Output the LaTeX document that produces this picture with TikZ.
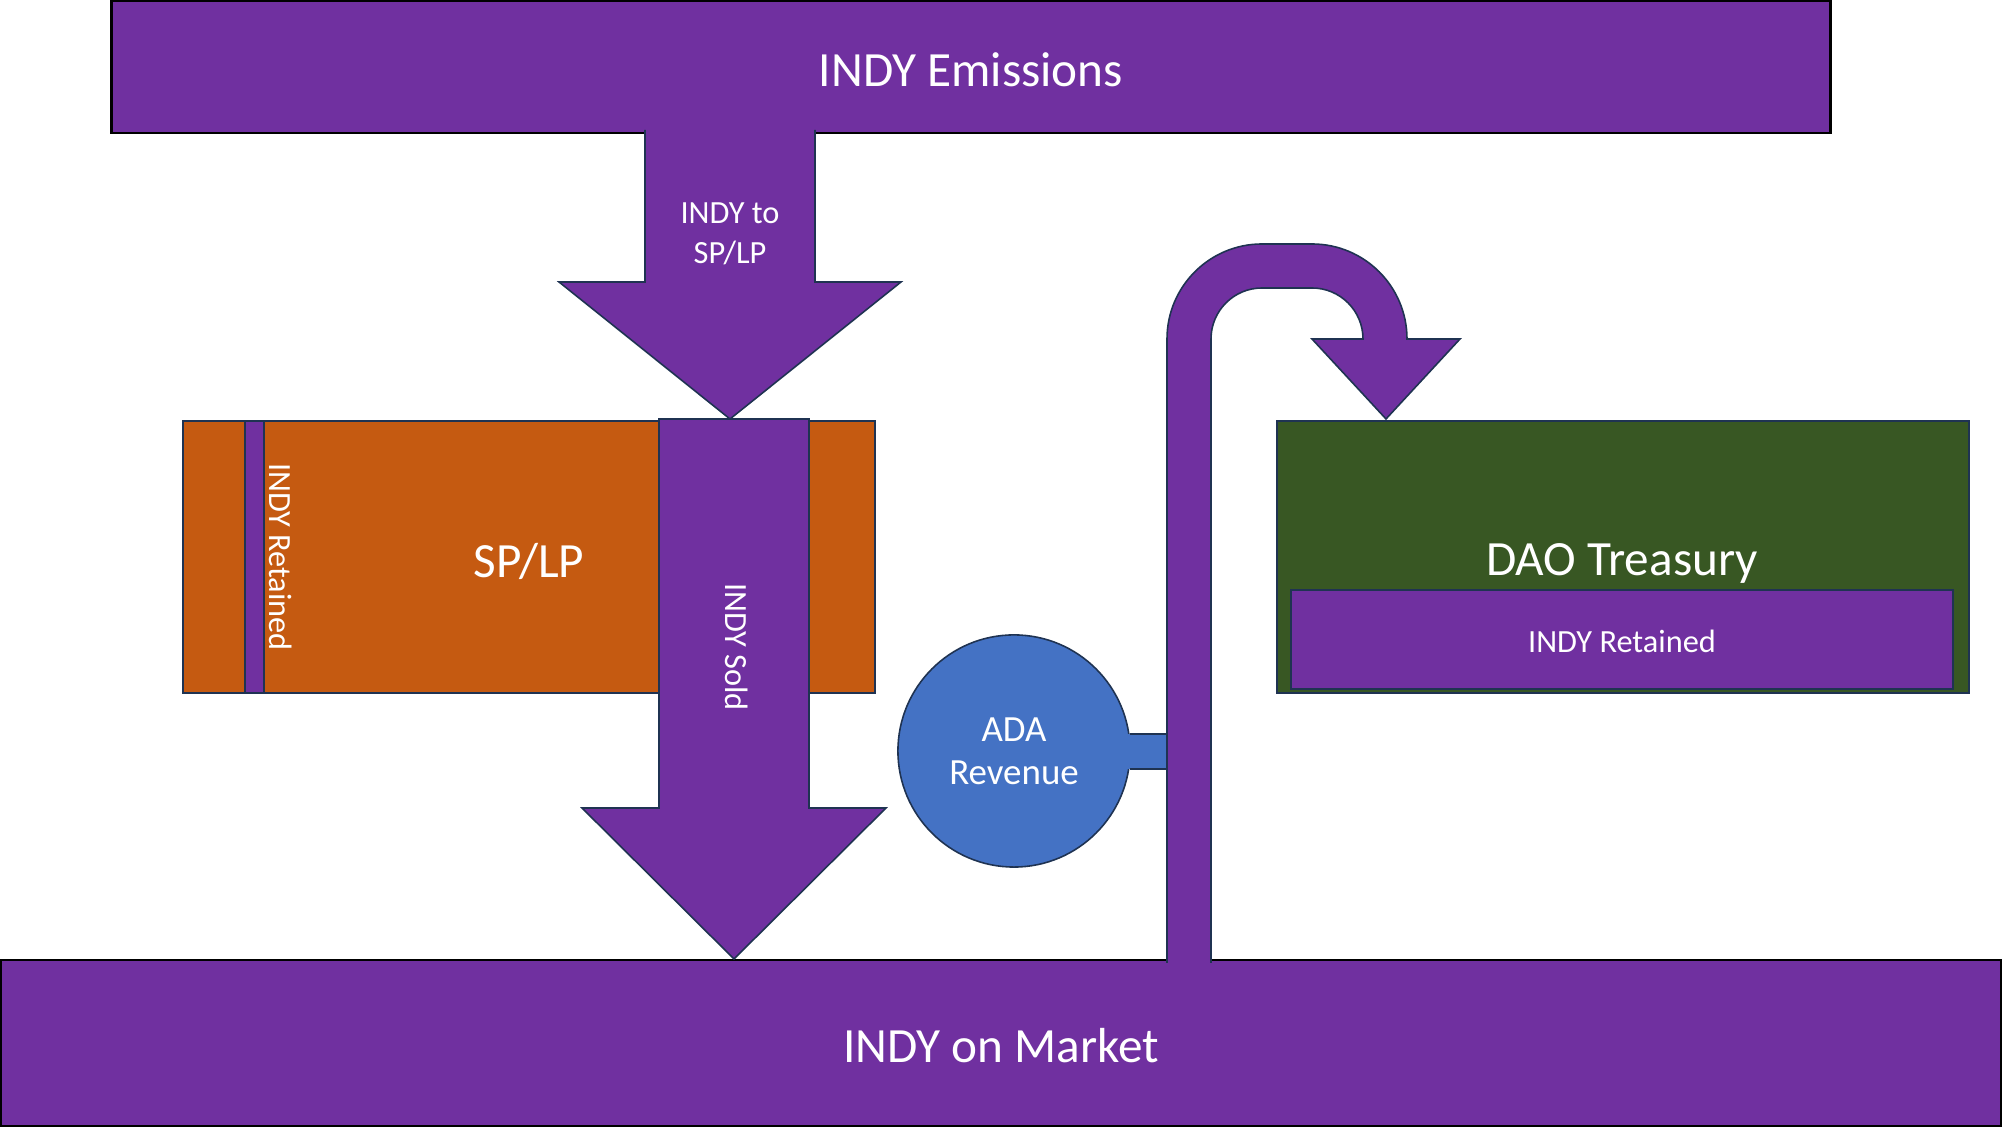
\documentclass[tikz,border=0pt]{standalone}
\usepackage{fontspec}
\setmainfont{Carlito}
\definecolor{indypurple}{HTML}{7030A0}
\definecolor{sporange}{HTML}{C55A11}
\definecolor{daogreen}{HTML}{385723}
\definecolor{adablue}{HTML}{4472C4}
\definecolor{navyline}{HTML}{1F3352}
\begin{document}
\begin{tikzpicture}[x=0.01cm, y=0.01cm,
    edge/.style={draw=navyline, line width=0.45pt},
    bar/.style={draw=black, line width=0.7pt, fill=indypurple, text=white,
      font=\fontsize{14}{17}\selectfont},
    box/.style={edge, text=white, font=\fontsize{14}{17}\selectfont},
    smalltext/.style={text=white, font=\fontsize{9.2}{11.3}\selectfont, align=center},
  ]
  \useasboundingbox (0,0) rectangle (2002,1128);

  % Top and bottom bars
  \node[bar, minimum width=17.18cm, minimum height=1.32cm] (emissions) at (971,1061) {};
  \node[text=white, font=\fontsize{14}{17}\selectfont] (emissionslabel) at (971,1058) {INDY Emissions};
  \node[bar, minimum width=20cm, minimum height=1.66cm] (market) at (1001,85) {};
  \node[text=white, font=\fontsize{14}{17}\selectfont] (marketlabel) at (1001,82) {INDY on Market};

  % SP/LP box with retained strip
  \node[box, fill=sporange, minimum width=6.92cm, minimum height=2.72cm] (splp) at (529,571) {};
  \node[text=white, font=\fontsize{14}{17}\selectfont] (splplabel) at (529,567) {SP/LP};
  \draw[edge, fill=indypurple] (245,435) rectangle (264,707);
  \node[smalltext, rotate=-90] (spretained) at (281,571) {INDY Retained};

  % INDY Sold arrow
  \draw[edge, fill=indypurple] (659,709) -- (659,320) -- (582,320) -- (734,169)
    -- (886,320) -- (809,320) -- (809,709) -- cycle;
  \node[smalltext, rotate=-90] (sold) at (737,481) {INDY Sold};

  % INDY to SP/LP arrow
  \draw[edge, fill=indypurple] (645,998) -- (645,846) -- (559,846) -- (730,709)
    -- (901,846) -- (815,846) -- (815,998);
  \node[smalltext] (tosplp) at (730,894) {INDY to\\SP/LP};

  % ADA revenue
  \node[circle, edge, fill=adablue, minimum size=2.32cm, text=white, align=center,
    font=\fontsize{10.5}{12.3}\selectfont] (ada) at (1014,377) {ADA\\Revenue};
  \coordinate (tabtop) at (1168,394);
  \coordinate (tabbottom) at (1168,359);
  \fill[adablue] (1100,359) rectangle (1168,394);
  \draw[edge] (tabtop -| ada.8.7) -- (tabtop);
  \draw[edge] (tabbottom -| ada.-8.7) -- (tabbottom);

  % U-turn arrow to treasury
  \draw[edge, fill=indypurple] (1211,165) -- (1211,789) arc[start angle=180, end angle=90, radius=51]
    -- (1312,840) arc[start angle=90, end angle=0, radius=51]
    -- (1312,789) -- (1386,709) -- (1460,789) -- (1407,789)
    arc[start angle=0, end angle=90, radius=95] -- (1262,884)
    arc[start angle=90, end angle=180, radius=95] -- (1167,165);

  % DAO treasury
  \node[box, fill=daogreen, minimum width=6.92cm, minimum height=2.72cm] (dao) at (1623,571) {};
  \node[text=white, font=\fontsize{14}{17}\selectfont] (daolabel) at (1622,564) {DAO Treasury};
  \node[edge, fill=indypurple, minimum width=6.62cm, minimum height=0.99cm, smalltext] (daoretained) at (1622,488.5) {};
  \node[smalltext] (daoretainedlabel) at (1622,487) {INDY Retained};
\end{tikzpicture}
\end{document}
